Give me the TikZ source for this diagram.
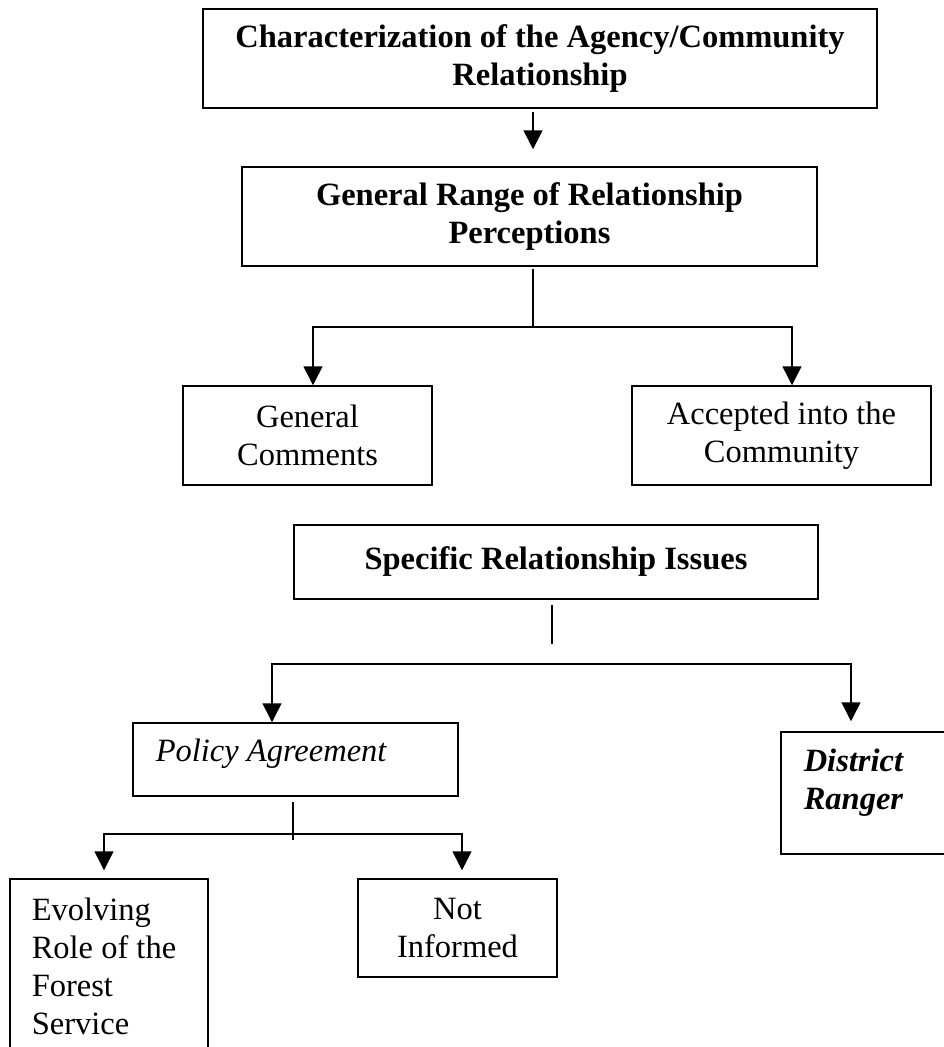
\documentclass[tikz,border=0pt]{standalone}
\usepackage{fontspec}
\setmainfont{Liberation Serif}
\usetikzlibrary{arrows.meta}
\newcommand{\diagfs}{\fontsize{32.5}{38}\selectfont}
\begin{document}
\begin{tikzpicture}[x=1pt,y=-1pt,line width=1.5pt,
  box/.style={draw,line width=1.5pt,inner sep=0pt,align=center,font=\diagfs},
  txt/.style={inner sep=0pt,font=\diagfs},
  arr/.style={-{Triangle[width=19pt,length=19pt]}}]
\clip (0,0) rectangle (944,1047);
\fill[white] (0,0) rectangle (944,1047);
% boxes
\node[box,minimum width=674pt,minimum height=99pt,font=\diagfs\bfseries] (top) at (540,58.5) {Characterization of the Agency/Community\\Relationship};
\node[box,minimum width=575pt,minimum height=99pt,font=\diagfs\bfseries] (gen) at (529.5,216.5) {General Range of Relationship\\Perceptions};
\node[box,minimum width=249pt,minimum height=99pt] (gc) at (307.5,435.5) {General\\Comments};
\node[box,minimum width=299pt,minimum height=99pt] (acc) at (781.5,435.5) {Accepted into the\\Community};
\node[box,minimum width=524pt,minimum height=74pt,font=\diagfs\bfseries] (spec) at (556,562) {Specific Relationship Issues};
\node[box,minimum width=325pt,minimum height=73pt] (pol) at (295.5,759.5) {};
\node[txt,anchor=west,font=\diagfs\itshape] (polt) at (155,754) {Policy Agreement};
\node[box,minimum width=179pt,minimum height=122pt] (dist) at (870.5,793) {};
\node[txt,anchor=west,align=left,font=\diagfs\bfseries\itshape] (distt) at (803,783) {District\\Ranger};
\node[box,minimum width=198pt,minimum height=181pt] (evo) at (109,969.5) {};
\node[txt,anchor=west,align=left] (evot) at (31,966.5) {Evolving\\Role of the\\Forest\\Service};
\node[box,minimum width=199pt,minimum height=98pt] (noti) at (457.5,928) {Not\\Informed};
% connectors
\draw[arr,shorten <=3pt,shorten >=17pt] ([xshift=-7pt]top.south) -- ([xshift=3.5pt]gen.north);
\coordinate (j1) at (533,327);
\draw[shorten <=2pt] ([xshift=3.5pt]gen.south) -- (j1);
\draw[arr] (j1) -| ([xshift=5.5pt]gc.north);
\draw[arr] (j1) -| ([xshift=10.5pt]acc.north);
\coordinate (s1) at (552,644);
\draw[shorten <=5pt] ([xshift=-4pt]spec.south) -- (s1);
\coordinate (j2) at (552,664);
\draw[arr] (j2) -| ([xshift=-23.5pt]pol.north);
\draw[arr,shorten >=10pt] (j2) -| ([xshift=-19.5pt]dist.north);
\coordinate (p1) at (293,840);
\draw[shorten <=5pt] ([xshift=-2.5pt]pol.south) -- (p1);
\coordinate (j3) at (293,834);
\draw[arr,shorten >=8pt] (j3) -| ([xshift=-5pt]evo.north);
\draw[arr,shorten >=8pt] (j3) -| ([xshift=4.5pt]noti.north);
\end{tikzpicture}
\end{document}
